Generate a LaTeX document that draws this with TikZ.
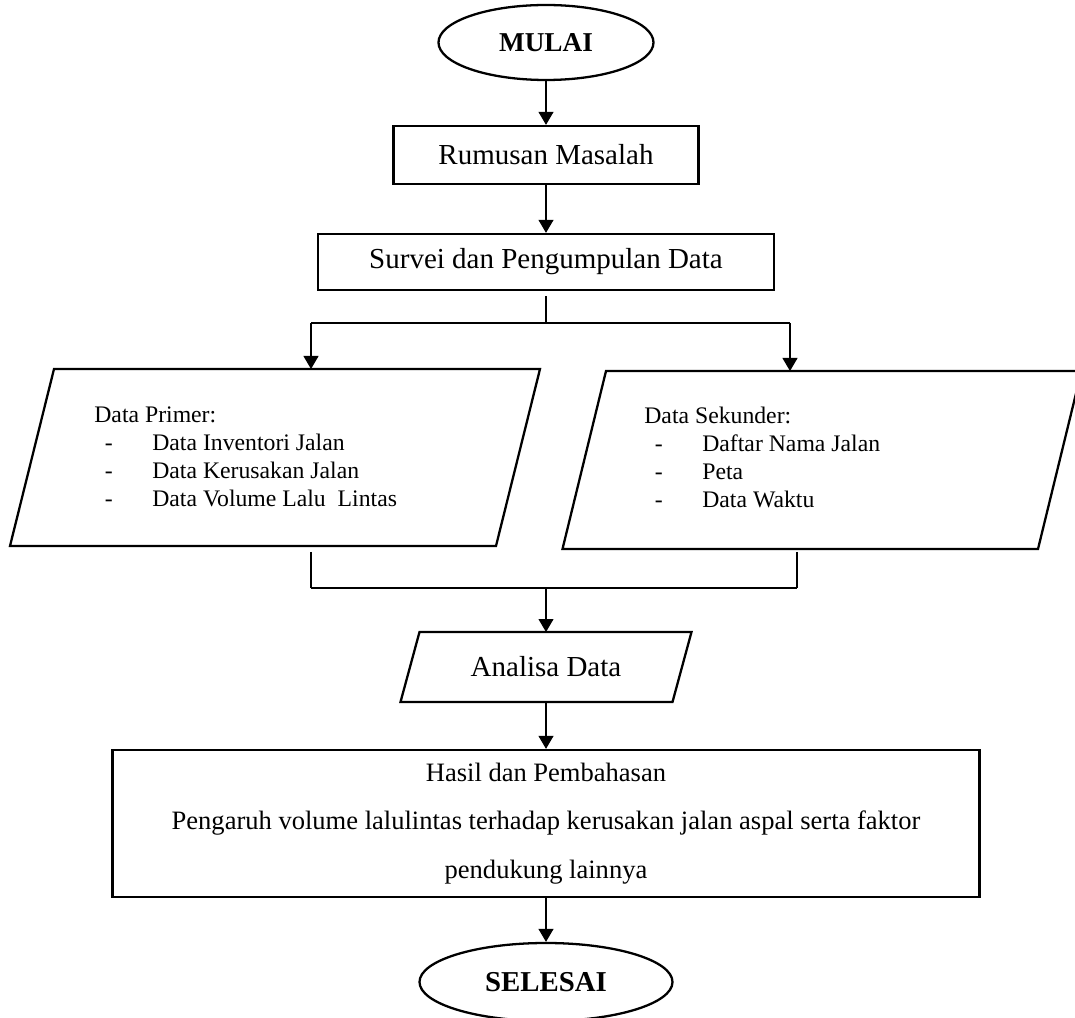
\documentclass[tikz,border=0pt]{standalone}
\usepackage{fontspec}
\setmainfont{Liberation Serif}
\usetikzlibrary{shapes.geometric,arrows.meta}
\newcommand\butir[1]{\hspace*{6pt}\makebox[27pt][l]{-}#1}

\begin{document}
\begin{tikzpicture}[node distance=2cm, auto]
    \tikzstyle{terminal} = [ellipse, draw, line width=1.3pt, font=\bfseries\fontsize{15.5}{18}\selectfont]
    \tikzstyle{proses} = [rectangle, draw, line width=1.3pt, font=\fontsize{16.5}{20}\selectfont]
    \tikzstyle{masukan} = [rectangle, outer sep=0pt, font=\fontsize{16.5}{20}\selectfont]
    \tikzstyle{tepi} = [line width=1.3pt]
    \tikzstyle{daftar} = [anchor=base west, inner sep=0pt, font=\fontsize{13.5}{15.9}\selectfont]
    \tikzstyle{arrow} = [line width=0.6pt,->,>={Triangle[length=2.6mm,width=3mm]}]
    \tikzstyle{garis} = [line width=0.6pt]

    \useasboundingbox (0,0) rectangle (21.5,-20.36);

    % Mulai
    \node [terminal, minimum width=4.3cm, minimum height=1.5cm] (mulai) at (10.92,-0.85) {MULAI};

    % Rumusan dan survei
    \node [proses, below of=mulai, node distance=2.25cm, minimum width=6.1cm, minimum height=1.16cm] (rumusan) {Rumusan Masalah};
    \node [proses, below of=rumusan, node distance=2.14cm, minimum width=9.12cm, minimum height=1.12cm] (survei) {Survei dan Pengumpulan Data};

    % Data primer dan sekunder
    \node [masukan, below of=survei, node distance=3.91cm, xshift=-5.42cm, minimum width=10.6cm, minimum height=3.54cm] (primer) {};
    \node [masukan, below of=survei, node distance=3.96cm, xshift=5.52cm, minimum width=10.38cm, minimum height=3.56cm] (sekunder) {};
    \draw [tepi] ([xshift=0.88cm]primer.north west) -- (primer.north east) -- ([xshift=-0.88cm]primer.south east) -- (primer.south west) -- cycle;
    \draw [tepi] ([xshift=0.87cm]sekunder.north west) -- (sekunder.north east) -- ([xshift=-0.87cm]sekunder.south east) -- (sekunder.south west) -- cycle;
    \node [daftar] (primerteks) at ([xshift=-3.62cm, yshift=0.69cm]primer.center) {\begin{tabular}[t]{@{}l@{}}Data Primer:\\ \butir{Data Inventori Jalan}\\ \butir{Data Kerusakan Jalan}\\ \butir{Data Volume Lalu\ \ Lintas}\end{tabular}};
    \node [daftar] (sekunderteks) at ([xshift=-3.56cm, yshift=0.72cm]sekunder.center) {\begin{tabular}[t]{@{}l@{}}Data Sekunder:\\ \butir{Daftar Nama Jalan}\\ \butir{Peta}\\ \butir{Data Waktu}\end{tabular}};

    % Analisa, hasil, selesai
    \node [masukan, below of=survei, node distance=8.1cm, minimum width=5.82cm, minimum height=1.4cm] (analisa) {Analisa Data};
    \draw [tepi] ([xshift=0.38cm]analisa.north west) -- (analisa.north east) -- ([xshift=-0.38cm]analisa.south east) -- (analisa.south west) -- cycle;
    \node [proses, below of=analisa, node distance=3.13cm, minimum width=17.34cm, minimum height=2.94cm, align=center, font=\fontsize{15.1}{27.5}\selectfont] (hasil) {Hasil dan Pembahasan\\Pengaruh volume lalulintas terhadap kerusakan jalan aspal serta faktor\\pendukung lainnya};
    \node [terminal, below of=hasil, node distance=3.17cm, minimum width=5.06cm, minimum height=1.56cm, font=\bfseries\fontsize{16.4}{19}\selectfont] (selesai) {SELESAI};

    % Cabang dan gabung
    \coordinate (cabang) at ([yshift=-1.22cm]survei.center);
    \coordinate (kiri) at ([xshift=-4.70cm]cabang);
    \coordinate (kanan) at ([xshift=4.88cm]cabang);
    \coordinate (gabung) at ([yshift=-6.52cm]survei.center);
    \coordinate (gkiri) at ([xshift=-4.70cm]gabung);
    \coordinate (gkanan) at ([xshift=5.02cm]gabung);

    \draw [arrow] (mulai) -- (rumusan);
    \draw [arrow] (rumusan) -- (survei);
    \draw [garis, shorten <=0.1cm] (survei) -- (cabang);
    \draw [garis] (kiri) -- (kanan);
    \draw [arrow] (kiri) -- (kiri |- primer.north);
    \draw [arrow] (kanan) -- (kanan |- sekunder.north);
    \draw [garis, shorten <=0.12cm] (gkiri |- primer.south) -- (gkiri);
    \draw [garis, shorten <=0.06cm] (gkanan |- sekunder.south) -- (gkanan);
    \draw [garis] (gkiri) -- (gkanan);
    \draw [arrow] (gabung) -- (analisa);
    \draw [arrow] (analisa) -- (hasil);
    \draw [arrow] (hasil) -- (selesai);
\end{tikzpicture}
\end{document}
